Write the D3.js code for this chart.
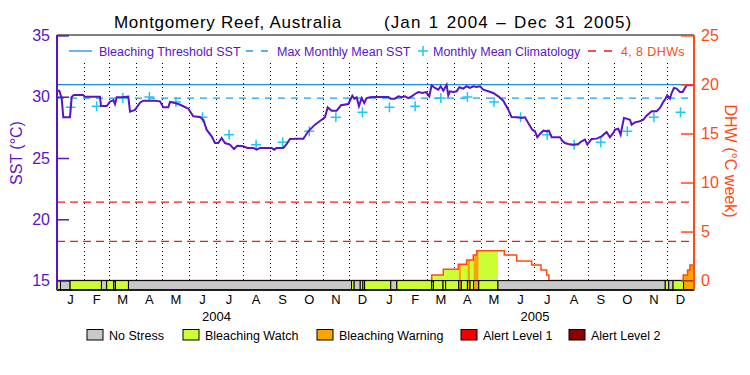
<!DOCTYPE html>
<html>
<head>
<meta charset="utf-8">
<script src="https://cdn.jsdelivr.net/npm/d3@7"></script>
<style>
  body { margin: 0; background: #fff; }
  svg text { font-family: "Liberation Sans", Arial, sans-serif; }
</style>
</head>
<body>
<div id="chart"></div>
<script>
// SST (day offset from Jan 1 2004, value in °C)
const sstDay = [0, 2.6, 5.4, 7.2, 14.9, 16.9, 19.5, 29.8, 32, 49.3, 50.5, 57, 60.8, 64.6, 66.6, 68.5, 74.2, 81.8, 83.8, 89.5,
  95.2, 99, 112, 118.2, 122, 127.7, 129.7, 135.4, 139.2, 145, 150.7, 156.4, 164.1, 167.9, 171.7, 177.5, 181.3, 185.1, 188.9, 192.8,
  198.5, 203.1, 206.9, 213.8, 218.4, 225.3, 229.1, 232.9, 246.3, 249.4, 252, 259.7, 263.5, 267.4, 275, 282.7, 284.6, 288.4, 296, 303.7,
  307.5, 310.6, 315.2, 320.9, 325.9, 334.3, 338.9, 341.2, 343.9, 346.5, 349.6, 352.6, 355.3, 359.2, 362.9, 374.5, 380.2, 382.9, 387.8, 391.7,
  395.5, 399.3, 403.1, 407, 410.8, 414.6, 419.6, 423.4, 427.2, 429.9, 433.7, 437.6, 440.3, 443.3, 447.1, 449, 450.9, 454.8, 458.6, 461.7,
  466.2, 470.1, 473.9, 477.7, 481.6, 485.4, 489.2, 495, 500.6, 506.4, 512.1, 517.9, 521.7, 527.5, 533.2, 537, 540.8, 545.4, 548.5, 551.2,
  554.2, 558.1, 561.9, 564.5, 567.6, 577.2, 579.8, 582.9, 586.7, 592.5, 598.2, 602, 605.9, 608.6, 613.5, 619.3, 625, 630.7, 634.5, 638.4,
  640.3, 644.1, 646.8, 647.9, 650.6, 653.6, 657.5, 659.4, 663.2, 668.9, 672.8, 676.6, 682.4, 688.1, 691.9, 695, 697.6, 700.3, 703.4, 705.3,
  708, 711, 714.9, 718, 720.6, 722.5, 730.1];
const sstVal = [30.49, 30.49, 29.87, 28.32, 28.32, 30.0, 30.14, 30.14, 30.0, 30.0, 29.24, 29.24, 29.59, 29.73, 29.4, 29.95, 29.95, 30.0, 28.78, 28.92,
  29.51, 29.67, 29.67, 29.62, 29.13, 29.13, 29.57, 29.49, 29.4, 29.22, 29.02, 28.4, 28.34, 28.12, 27.31, 26.77, 26.22, 26.22, 26.63, 26.22,
  26.09, 25.73, 26.0, 25.95, 25.82, 25.82, 25.68, 25.82, 25.82, 25.68, 25.82, 25.82, 26.14, 26.55, 26.58, 26.58, 26.77, 27.18, 27.72, 28.12,
  28.32, 29.13, 28.86, 28.86, 29.3, 29.4, 30.08, 29.84, 29.95, 29.22, 29.89, 29.49, 29.89, 29.95, 29.98, 29.98, 29.98, 29.84, 29.84, 30.03,
  29.95, 30.03, 29.89, 30.03, 30.22, 30.38, 30.3, 30.38, 30.03, 30.93, 30.71, 30.57, 30.85, 30.49, 30.98, 30.11, 30.44, 30.38, 30.44, 30.77,
  30.66, 30.85, 30.71, 30.85, 30.79, 30.85, 30.57, 30.44, 30.3, 30.03, 29.67, 28.94, 28.34, 28.32, 28.26, 28.32, 27.85, 27.31, 27.18, 26.69,
  26.96, 27.23, 27.18, 27.23, 26.69, 26.69, 26.41, 26.22, 26.14, 26.09, 26.14, 26.36, 26.5, 26.09, 26.55, 26.58, 26.77, 27.12, 26.69, 27.04,
  27.31, 27.39, 26.9, 27.31, 28.26, 28.21, 28.12, 27.72, 27.91, 27.99, 28.12, 28.45, 28.81, 28.81, 29.08, 29.49, 29.76, 30.11, 29.84, 30.3,
  30.71, 30.66, 30.38, 30.38, 30.71, 30.93, 30.93];

// monthly mean climatology, Jan..Dec
const climVal = [29.14, 29.22, 29.89, 29.98, 29.57, 28.32, 26.9, 26.08, 26.28, 27.18, 28.32, 28.73];
const mmm = 29.88;
const threshold = 30.98;
const dhwRefs = [4, 8];

// degree heating weeks (step values)
const dhwDay = [0, 430, 443.3, 460.5, 470.1, 477.7, 481.6, 513.3, 527.5, 544.7, 555.4, 561.9, 564.5, 718.6, 723.6, 726.3, 731];
const dhwVal = [0, 0.57, 1.15, 1.66, 2.1, 2.6, 3.05, 2.6, 2.0, 1.59, 1.08, 0.57, 0, 0.57, 1.08, 1.59, 1.59];

// stress level periods: 0 none, 1 watch, 2 warning, 3 alert 1, 4 alert 2
const statusStart = [0, 4, 15, 51, 57, 65, 67, 82, 338, 341, 348, 351, 353, 383, 390, 430, 432, 443, 446, 461, 464, 471, 474, 478, 484, 506, 698, 702, 707, 719];
const statusLevel = [1, 0, 1, 0, 1, 0, 1, 0, 1, 0, 1, 0, 1, 0, 1, 1, 1, 1, 1, 2, 1, 2, 1, 2, 1, 0, 1, 0, 1, 2];
const statusNames = ["No Stress", "Bleaching Watch", "Bleaching Warning", "Alert Level 1", "Alert Level 2"];

const monthLetters = ["J", "F", "M", "A", "M", "J", "J", "A", "S", "O", "N", "D"];
const yearLabels = ["2004", "2005"];

const statusColors = ["#c8c8c8", "#ccff33", "#fba600", "#f00000", "#8b0000"];
const purple = "#5a14c8";
const orange = "#ff4a14";

const width = 750, height = 375;
const L = 57, R = 694, T = 35, B = 290;
const t0 = Date.UTC(2004, 0, 1);
const dayDate = d => new Date(t0 + d * 864e5);

const svg = d3.select("#chart").append("svg")
  .attr("width", width).attr("height", height)
  .style("display", "block");
svg.append("rect").attr("width", width).attr("height", height).attr("fill", "#fff");

const x = d3.scaleUtc().domain([dayDate(0), new Date(Date.UTC(2006, 0, 1))]).range([L, R]);
const y = d3.scaleLinear().domain([15, 35]).range([280.6, 35.4]);
const yd = d3.scaleLinear().domain([0, 25]).range([280.6, 35.4]);

const months = d3.utcMonth.range(dayDate(0), new Date(Date.UTC(2006, 0, 1)));

// month grid
svg.append("g").selectAll("line")
  .data(months.slice(1))
  .join("line")
  .attr("x1", d => Math.round(x(d)) + 0.5).attr("x2", d => Math.round(x(d)) + 0.5)
  .attr("y1", 63).attr("y2", y(15))
  .attr("stroke", "#000").attr("stroke-width", 1)
  .attr("stroke-dasharray", "1,3");

// DHW area coloured by stress level
const dhw = dhwDay.map((d, i) => ({ date: dayDate(d), v: dhwVal[i] }));
const status = statusStart.map((s, i) => ({
  a: s, b: i + 1 < statusStart.length ? statusStart[i + 1] : 731, level: statusLevel[i]
}));
const area = d3.area().curve(d3.curveStepAfter)
  .x(d => x(d.date)).y0(yd(0)).y1(d => yd(d.v));
const defs = svg.append("defs");
status.forEach((s, i) => {
  if (s.level === 0) return;
  defs.append("clipPath").attr("id", "seg" + i)
    .append("rect")
    .attr("x", x(dayDate(s.a))).attr("y", T)
    .attr("width", x(dayDate(s.b)) - x(dayDate(s.a))).attr("height", B - T);
  svg.append("path").datum(dhw)
    .attr("d", area)
    .attr("fill", statusColors[s.level])
    .attr("clip-path", `url(#seg${i})`);
});
svg.append("path").datum(dhw)
  .attr("d", d3.line().curve(d3.curveStepAfter).x(d => x(d.date)).y(d => yd(d.v)))
  .attr("fill", "none").attr("stroke", orange).attr("stroke-width", 1.5);

// reference lines
svg.append("g").selectAll("line")
  .data(dhwRefs)
  .join("line")
  .attr("x1", L).attr("x2", R)
  .attr("y1", d => yd(d)).attr("y2", d => yd(d))
  .attr("stroke", "#ee1c1c").attr("stroke-width", 1.2)
  .attr("stroke-dasharray", "8,5");
svg.append("line")
  .attr("x1", L).attr("x2", R).attr("y1", y(mmm)).attr("y2", y(mmm))
  .attr("stroke", "#1a9cf0").attr("stroke-width", 1.3).attr("stroke-dasharray", "7,6");
svg.append("line")
  .attr("x1", L).attr("x2", R).attr("y1", y(threshold)).attr("y2", y(threshold))
  .attr("stroke", "#1e8ce6").attr("stroke-width", 1.3);

// climatology crosses
const clim = [];
months.forEach((m, i) => clim.push({ date: new Date((+m + +d3.utcMonth.offset(m, 1)) / 2), v: climVal[i % 12] }));
svg.append("g").selectAll("path")
  .data(clim)
  .join("path")
  .attr("d", d => {
    const cx = x(d.date), cy = y(d.v), r = 5;
    return `M${cx - r},${cy}H${cx + r}M${cx},${cy - r}V${cy + r}`;
  })
  .attr("stroke", "#1ec8f0").attr("stroke-width", 1.5);

// SST
const sst = sstDay.map((d, i) => ({ date: dayDate(d), v: sstVal[i] }));
svg.append("path").datum(sst)
  .attr("d", d3.line().x(d => x(d.date)).y(d => y(d.v)))
  .attr("fill", "none").attr("stroke", purple).attr("stroke-width", 2);

// stress bar
svg.append("g").selectAll("rect")
  .data(status)
  .join("rect")
  .attr("x", d => x(dayDate(d.a)))
  .attr("width", d => x(dayDate(d.b)) - x(dayDate(d.a)))
  .attr("y", y(15)).attr("height", B - y(15))
  .attr("fill", d => statusColors[d.level])
  .attr("stroke", "#000").attr("stroke-width", 1);

// frame
svg.append("line").attr("x1", L).attr("x2", R).attr("y1", T).attr("y2", T).attr("stroke", "#000");
svg.append("line").attr("x1", L).attr("x2", R).attr("y1", B).attr("y2", B).attr("stroke", "#000").attr("stroke-width", 1.5);

// left axis (SST)
const gl = svg.append("g").attr("transform", `translate(${L},0)`);
gl.call(d3.axisLeft(y).tickValues(d3.range(15, 36)).tickSize(-6.5).tickFormat(""));
gl.call(d3.axisLeft(y).tickValues([15, 20, 25, 30, 35]).tickSize(-12).tickPadding(7));
gl.selectAll(".domain").remove();
gl.selectAll("line").attr("stroke", purple).attr("stroke-width", 1.5);
gl.selectAll("text").attr("fill", purple).style("font-size", "16px");
gl.append("line").attr("y1", T).attr("y2", B).attr("stroke", purple).attr("stroke-width", 2);

// right axis (DHW)
const gr = svg.append("g").attr("transform", `translate(${R},0)`);
gr.call(d3.axisRight(yd).tickValues(d3.range(0, 26)).tickSize(-6.5).tickFormat(""));
gr.call(d3.axisRight(yd).tickValues([0, 5, 10, 15, 20, 25]).tickSize(-13).tickPadding(7));
gr.selectAll(".domain").remove();
gr.selectAll("line").attr("stroke", orange).attr("stroke-width", 1.5);
gr.selectAll("text").attr("fill", orange).style("font-size", "16px");
gr.append("line").attr("y1", T).attr("y2", B).attr("stroke", orange).attr("stroke-width", 2);

// axis titles
svg.append("text")
  .attr("transform", "translate(22,153) rotate(-90)")
  .attr("text-anchor", "middle").attr("fill", purple)
  .style("font-size", "16px").text("SST (°C)");
svg.append("text")
  .attr("transform", "translate(725,161) rotate(90)")
  .attr("text-anchor", "middle").attr("fill", orange)
  .style("font-size", "16px").text("DHW (°C week)");

// month + year labels
svg.append("g").selectAll("text")
  .data(months)
  .join("text")
  .attr("x", d => (x(d) + x(d3.utcMonth.offset(d, 1))) / 2)
  .attr("y", 304)
  .attr("text-anchor", "middle")
  .style("font-size", "13px")
  .text((d, i) => monthLetters[i % 12]);
svg.append("g").selectAll("text")
  .data(yearLabels)
  .join("text")
  .attr("x", d => (x(new Date(Date.UTC(+d, 0, 1))) + x(new Date(Date.UTC(+d + 1, 0, 1)))) / 2)
  .attr("y", 321)
  .attr("text-anchor", "middle")
  .style("font-size", "13px")
  .text(d => d);

// title
svg.append("text").attr("x", 114).attr("y", 28)
  .style("font-size", "17px").style("letter-spacing", "0.7px")
  .text("Montgomery Reef, Australia");
svg.append("text").attr("x", 384).attr("y", 28)
  .style("font-size", "17px").style("letter-spacing", "1.1px").style("word-spacing", "1.5px")
  .text("(Jan 1 2004 – Dec 31 2005)");

// top legend
const lg = svg.append("g").style("font-size", "12.5px");
lg.append("line").attr("x1", 69).attr("x2", 92).attr("y1", 51).attr("y2", 51).attr("stroke", "#1e8ce6").attr("stroke-width", 1.3);
lg.append("text").attr("x", 99).attr("y", 55.5).attr("fill", purple).text("Bleaching Threshold SST");
lg.append("line").attr("x1", 246).attr("x2", 268).attr("y1", 51).attr("y2", 51).attr("stroke", "#1a9cf0").attr("stroke-width", 1.3).attr("stroke-dasharray", "7,8");
lg.append("text").attr("x", 277).attr("y", 55.5).attr("fill", purple).text("Max Monthly Mean SST");
lg.append("path").attr("d", "M418,51H428M423,46V56").attr("stroke", "#1ec8f0").attr("stroke-width", 1.5);
lg.append("text").attr("x", 433).attr("y", 55.5).attr("fill", purple).text("Monthly Mean Climatology");
lg.append("line").attr("x1", 588).attr("x2", 612).attr("y1", 51).attr("y2", 51).attr("stroke", "#ee1c1c").attr("stroke-width", 1.3).attr("stroke-dasharray", "8,8");
lg.append("text").attr("x", 621).attr("y", 55.5).attr("fill", orange).style("letter-spacing", "0.4px").text("4, 8 DHWs");

// stress legend
const boxX = [87, 183, 317, 461, 569];
const sl = svg.append("g").selectAll("g")
  .data(statusNames)
  .join("g")
  .attr("transform", (d, i) => `translate(${boxX[i]},329.5)`);
sl.append("rect").attr("width", 16).attr("height", 10.5)
  .attr("fill", (d, i) => statusColors[i]).attr("stroke", "#000").attr("stroke-width", 1);
sl.append("text").attr("x", 22).attr("y", 10).style("font-size", "12.5px").text(d => d);
</script>
</body>
</html>
